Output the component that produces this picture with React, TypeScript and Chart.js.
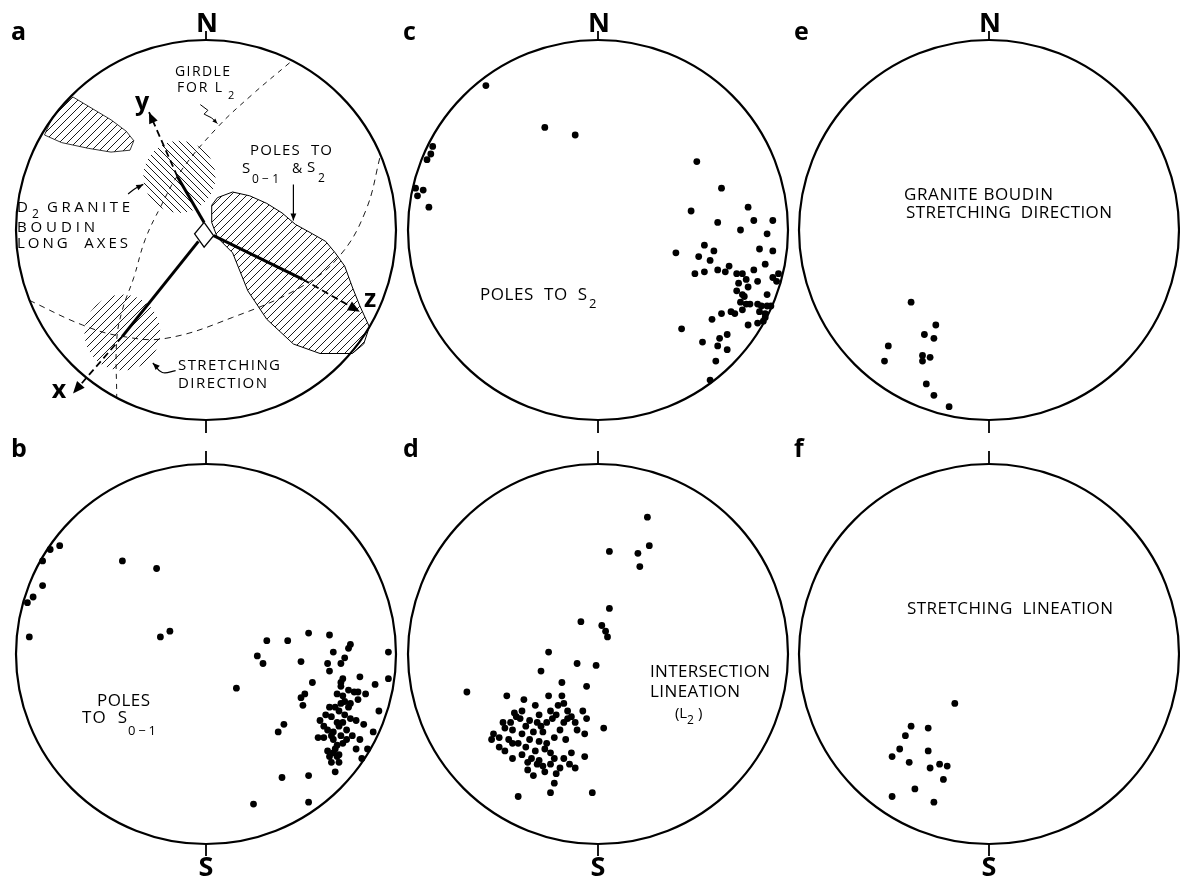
import React, { useEffect, useRef } from "react";
import { Chart, registerables } from "chart.js";

Chart.register(...registerables);

type P = [number, number];

// ---------- DATA: x = east, y = north, in % of the net radius ----------
// b: poles to S0-1
const polesS01: P[] = [
  [-77, 57], [-82, 55], [-86, 49], [-86, 36], [-91, 30], [-94, 27], [-93, 9], [-44, 49], [-26, 45], [-24, 9], [-19, 12],
  [16, -18], [32, 7], [43, 7], [54, 11], [65, 10], [76, 5], [75, 3], [27, -1], [30, -5], [50, -4], [67, 1], [73, -2],
  [96, 1], [64, -5], [65, -9], [71, -5], [56, -15], [72, -13], [81, -12], [89, -16], [96, -13], [52, -21], [50, -23],
  [51, -27], [71, -17], [75, -19], [78, -20], [80, -20], [84, -21], [80, -24], [72, -22], [71, -26], [68, -28], [75, -28],
  [70, -30], [73, -32], [76, -34], [91, -30], [63, -32], [60, -35], [72, -36], [79, -35], [83, -37], [69, -36], [62, -38],
  [64, -40], [67, -41], [74, -40], [71, -43], [41, -37], [38, -41], [59, -44], [88, -41], [67, -45], [69, -48], [81, -45],
  [79, -50], [85, -50], [64, -51], [67, -52], [70, -53], [65, -54], [69, -54], [82, -55], [68, -62], [54, -64], [40, -65],
  [25, -79], [54, -78], [71, -15], [65, -28], [76, -26], [73, -25], [70, -38], [66, -43], [72, -47], [68, -50], [66, -57],
  [74, -45], [77, -43], [62, -44], [69, -21], [66, -33], [70, -57],
];

// c: poles to S2
const polesS2: P[] = [
  [-59, 76], [-28, 54], [-12, 50], [-87, 44], [-88, 40], [-90, 37], [-96, 22], [-92, 21], [-95, 18], [-89, 12],
  [52, 36], [65, 22], [49, 10], [79, 12], [63, 4], [82, 5], [92, 5], [75, 0], [89, -2], [41, -12], [56, -8], [61, -11],
  [53, -14], [59, -16], [85, -10], [92, -11], [88, -18], [51, -23], [56, -22], [63, -21], [67, -22], [69, -19], [73, -23],
  [76, -23], [82, -21], [84, -27], [92, -25], [95, -23], [94, -27], [78, -26], [79, -30], [74, -28], [73, -32], [76, -34],
  [77, -35], [89, -34], [75, -38], [78, -39], [80, -39], [84, -39], [86, -40], [89, -40], [91, -40], [76, -42], [85, -43],
  [88, -44], [70, -43], [72, -44], [65, -44], [60, -47], [88, -46], [87, -48], [84, -49], [79, -50], [44, -52], [68, -55],
  [64, -57], [55, -59], [63, -61], [68, -63], [62, -69], [59, -79],
];

// d: intersection lineation L2
const intersectionL2: P[] = [
  [26, 72], [27, 57], [6, 54], [21, 53], [22, 46], [6, 24], [-9, 17], [2, 15], [4, 12], [5, 9], [-26, 1], [-11, -5],
  [-1, -6], [-30, -9], [-19, -15], [-6, -17], [-69, -20], [-48, -22], [-39, -24], [-26, -22], [-19, -22], [-18, -26],
  [-33, -27], [-40, -30], [-44, -31], [-31, -32], [-25, -30], [-22, -32], [-16, -30], [-14, -33], [-8, -30], [-6, -34],
  [-41, -34], [-46, -36], [-36, -35], [-32, -36], [-27, -36], [-18, -36], [-12, -36], [-11, -40], [-7, -42], [3, -39],
  [-49, -39], [-45, -40], [-40, -42], [-34, -41], [-29, -41], [-23, -44], [-55, -42], [-52, -44], [-56, -45], [-47, -45],
  [-45, -47], [-36, -45], [-31, -46], [-52, -49], [-49, -51], [-38, -49], [-33, -51], [-28, -50], [-25, -52], [-40, -53],
  [-45, -55], [-35, -55], [-31, -56], [-23, -55], [-18, -55], [-7, -54], [-32, -58], [-29, -59], [-25, -58], [-20, -60],
  [-15, -58], [-12, -60], [-37, -61], [-34, -64], [-22, -63], [-23, -68], [-42, -75], [-25, -73], [-3, -73], [-21, -27],
  [-16, -34], [-43, -33], [-38, -38], [-30, -38], [-20, -40], [-17, -45], [-27, -47], [-42, -47], [-37, -57], [-28, -62],
  [-50, -36], [-14, -52], [-24, -34],
];

// e: granite boudin stretching direction
const boudinStretch: P[] = [
  [-41, -38], [-28, -50], [-34, -55], [-29, -57], [-53, -61], [-55, -69], [-35, -66], [-31, -67], [-35, -69], [-33, -81],
  [-29, -87], [-21, -93],
];

// f: stretching lineation
const stretchLineation: P[] = [
  [-18, -26], [-41, -38], [-32, -39], [-44, -43], [-47, -50], [-32, -51], [-51, -54], [-42, -57], [-26, -58], [-22, -59],
  [-31, -60], [-24, -66], [-39, -71], [-51, -75], [-29, -78],
];

// a: synoptic diagram
const girdleL2: P[] = [[44, 88], [24, 71], [6, 54], [-14, 30], [-24, 12], [-32, -5], [-38, -25], [-44, -42], [-47, -58], [-47, -88]];
const girdleS: P[] = [[-93, -37], [-65, -50], [-44, -56], [-21, -57], [14, -46], [50, -30], [70, -14], [84, 10], [92, 40]];
const boudinAxesField: P[] = [[-70, 70], [-60, 64], [-50, 58], [-42, 52], [-38, 47], [-40, 42], [-50, 41], [-62, 43], [-76, 46], [-85, 50], [-81, 59], [-76, 65], [-70, 70]];
const polesField: P[] = [[6, 17], [14, 20], [23, 18], [32, 14], [40, 9], [47, 3], [56, -2], [63, -6], [68, -12], [73, -19], [77, -30], [81, -40], [86, -51], [83, -60], [77, -65], [60, -65], [46, -60], [32, -47], [22, -32], [14, -12], [6, -4], [3, 4], [3, 13], [6, 17]];
const maximaX: number[] = [-14, -44];
const maximaY: number[] = [28, -54];
const maximaR: number[] = [19, 20];
const yAxisSolid: P[] = [[-1, 4], [-15, 28]];
const yAxisDash: P[] = [[-15, 28], [-30, 62]];
const zAxisSolid: P[] = [[4, -3], [51, -26]];
const zAxisDash: P[] = [[51, -26], [81, -43]];
const xAxisSolid: P[] = [[-4, -6], [-44, -56]];
const xAxisDash: P[] = [[-44, -56], [-70, -86]];
const rightAngle: P[] = [[-1, 4], [4, -3], [-1, -9], [-6, -2], [-1, 4]];
const polesLeader: P[] = [[46, 24], [46, 5]];
const boudinLeader: P[] = [[-41, 19], [-37, 22], [-33, 24]];
const stretchLeader: P[] = [[-16, -74], [-23, -75], [-28, -70]];
const girdleLeader: P[] = [[-3, 66], [1, 63], [-1, 61], [3, 59], [6, 56]];

// ---------- TEXT ----------
type Lbl = { t: string; dx: number; dy: number; s: number; w?: number; b?: boolean; c?: boolean };

const LABELS_A: Lbl[] = [
  { t: "GIRDLE", dx: -31, dy: -154, s: 14, w: 55 },
  { t: "FOR L", dx: -29, dy: -138, s: 14, w: 45 },
  { t: "2", dx: 22, dy: -131, s: 11 },
  { t: "POLES  TO", dx: 44, dy: -75, s: 15, w: 82 },
  { t: "S", dx: 36, dy: -57, s: 15 },
  { t: "0−1", dx: 46, dy: -47, s: 12, w: 27 },
  { t: "&", dx: 86, dy: -57, s: 14 },
  { t: "S", dx: 101, dy: -58, s: 15 },
  { t: "2", dx: 112, dy: -48, s: 12 },
  { t: "D", dx: -189, dy: -18, s: 15 },
  { t: "2", dx: -174, dy: -12, s: 12 },
  { t: "GRANITE", dx: -159, dy: -18, s: 15, w: 83 },
  { t: "BOUDIN", dx: -189, dy: 2, s: 15, w: 78 },
  { t: "LONG  AXES", dx: -189, dy: 18, s: 15, w: 111 },
  { t: "STRETCHING", dx: -28, dy: 140, s: 15, w: 102 },
  { t: "DIRECTION", dx: -28, dy: 158, s: 15, w: 89 },
  { t: "y", dx: -64, dy: -120, s: 25, b: true, c: true },
  { t: "z", dx: 164, dy: 77, s: 25, b: true, c: true },
  { t: "x", dx: -147, dy: 168, s: 25, b: true, c: true },
];
const LABELS_B: Lbl[] = [
  { t: "POLES", dx: -109, dy: 52, s: 17, w: 53 },
  { t: "TO  S", dx: -124, dy: 69, s: 17, w: 45 },
  { t: "0−1", dx: -78, dy: 81, s: 13, w: 28 },
];
const LABELS_C: Lbl[] = [
  { t: "POLES  TO  S", dx: -118, dy: 70, s: 17, w: 107 },
  { t: "2", dx: -9, dy: 78, s: 13 },
];
const LABELS_D: Lbl[] = [
  { t: "INTERSECTION", dx: 52, dy: 23, s: 17, w: 120 },
  { t: "LINEATION", dx: 52, dy: 43, s: 17, w: 90 },
  { t: "(L", dx: 77, dy: 64, s: 15, w: 12 },
  { t: "2", dx: 89, dy: 70, s: 12 },
  { t: ")", dx: 100, dy: 64, s: 15 },
];
const LABELS_E: Lbl[] = [
  { t: "GRANITE BOUDIN", dx: -85, dy: -30, s: 17, w: 149 },
  { t: "STRETCHING  DIRECTION", dx: -83, dy: -12, s: 17, w: 206 },
];
const LABELS_F: Lbl[] = [
  { t: "STRETCHING  LINEATION", dx: -82, dy: -40, s: 17, w: 206 },
];

type Panel = {
  id: string; cx: number; cy: number; top: boolean; labels: Lbl[]; points?: P[];
};

const PANELS: Panel[] = [
  { id: "a", cx: 206, cy: 230, top: true, labels: LABELS_A },
  { id: "c", cx: 598, cy: 230, top: true, labels: LABELS_C, points: polesS2 },
  { id: "e", cx: 989, cy: 230, top: true, labels: LABELS_E, points: boudinStretch },
  { id: "b", cx: 206, cy: 654, top: false, labels: LABELS_B, points: polesS01 },
  { id: "d", cx: 598, cy: 654, top: false, labels: LABELS_D, points: intersectionL2 },
  { id: "f", cx: 989, cy: 654, top: false, labels: LABELS_F, points: stretchLineation },
];

const FONT = '"Open Sans", "DejaVu Sans", sans-serif';
const CW = 392;
const CH = 460;
const R = 190;

const pts = (a: P[]) => a.map(([x, y]) => ({ x, y }));

function hatch(dir: number, gap: number): CanvasPattern | string {
  const c = document.createElement("canvas");
  c.width = gap;
  c.height = gap;
  const g = c.getContext("2d");
  if (!g) return "rgba(0,0,0,0.2)";
  g.strokeStyle = "#000";
  g.lineWidth = 0.9;
  g.beginPath();
  if (dir > 0) {
    g.moveTo(-1, gap + 1); g.lineTo(gap + 1, -1);
    g.moveTo(-1, 1); g.lineTo(1, -1);
    g.moveTo(gap - 1, gap + 1); g.lineTo(gap + 1, gap - 1);
  } else {
    g.moveTo(-1, -1); g.lineTo(gap + 1, gap + 1);
    g.moveTo(gap - 1, -1); g.lineTo(gap + 1, 1);
    g.moveTo(-1, gap - 1); g.lineTo(1, gap + 1);
  }
  g.stroke();
  return g.createPattern(c, "repeat") || "rgba(0,0,0,0.2)";
}

function line(a: P[], extra: any = {}) {
  return {
    data: pts(a), showLine: true, pointRadius: 0, pointHoverRadius: 0,
    borderColor: "#000", backgroundColor: "#000", borderWidth: 1, fill: false, tension: 0, clip: false,
    ...extra,
  };
}

function dots(a: P[]) {
  return {
    data: pts(a), showLine: false, pointRadius: 3.4, pointHoverRadius: 3.4,
    backgroundColor: "#000", borderColor: "#000", borderWidth: 0, clip: false,
  };
}

function diagramDatasets() {
  const fwd = hatch(1, 8);
  const back = hatch(-1, 7);
  return [
    line(boudinAxesField, { fill: "shape", backgroundColor: fwd, borderWidth: 0.8 }),
    line(polesField, { fill: "shape", backgroundColor: fwd, borderWidth: 1 }),
    {
      data: maximaX.map((x, i) => ({ x, y: maximaY[i], r: maximaR[i] })),
      showLine: false, clip: false, borderWidth: 0,
      pointBackgroundColor: [back, fwd], backgroundColor: [back, fwd],
      pointRadius: (c: any) => {
        const w = c.chart.chartArea ? c.chart.chartArea.width : 2 * R;
        return c.raw ? (c.raw.r * w) / 200 : 0;
      },
      pointHoverRadius: 0,
    },
    line(girdleL2, { borderDash: [5, 5], borderWidth: 0.9, tension: 0.4 }),
    line(girdleS, { borderDash: [6, 5], borderWidth: 0.9, tension: 0.4 }),
    line(yAxisSolid, { borderWidth: 3 }),
    line(yAxisDash, { borderWidth: 1.8, borderDash: [7, 4], arrow: 11 }),
    line(zAxisSolid, { borderWidth: 3 }),
    line(zAxisDash, { borderWidth: 1.8, borderDash: [7, 4], arrow: 12 }),
    line(xAxisSolid, { borderWidth: 3 }),
    line(xAxisDash, { borderWidth: 1.8, borderDash: [7, 4], arrow: 12 }),
    line(rightAngle, { borderWidth: 1.3, fill: "shape", backgroundColor: "#fff" }),
    line(polesLeader, { borderWidth: 1.2, arrow: 7 }),
    line(boudinLeader, { borderWidth: 1.2, arrow: 7, tension: 0.4 }),
    line(stretchLeader, { borderWidth: 1.2, arrow: 7, tension: 0.4 }),
    line(girdleLeader, { borderWidth: 1, arrow: 5 }),
  ];
}

function drawLabel(ctx: CanvasRenderingContext2D, l: Lbl, cx: number, cy: number) {
  ctx.font = `${l.b ? "700" : "400"} ${l.s}px ${FONT}`;
  ctx.fillStyle = "#000";
  ctx.textBaseline = "alphabetic";
  const x = cx + l.dx;
  const y = cy + l.dy;
  if (l.c) {
    ctx.textAlign = "center";
    ctx.fillText(l.t, x, y);
    return;
  }
  ctx.textAlign = "left";
  const chars = Array.from(l.t);
  const widths = chars.map((ch) => ctx.measureText(ch).width);
  const natural = widths.reduce((s, w) => s + w, 0);
  let sp = 0;
  if (l.w && chars.length > 1) sp = (l.w - natural) / (chars.length - 1);
  let px = x;
  chars.forEach((ch, i) => {
    ctx.fillText(ch, px, y);
    px += widths[i] + sp;
  });
}

function makePlugin(p: Panel) {
  return {
    id: "stereo-" + p.id,
    beforeDatasetsDraw(chart: any) {
      const ctx: CanvasRenderingContext2D = chart.ctx;
      const xs = chart.scales.x;
      const ys = chart.scales.y;
      const cx = xs.getPixelForValue(0);
      const cy = ys.getPixelForValue(0);
      const r = xs.getPixelForValue(100) - cx;
      ctx.save();
      ctx.strokeStyle = "#000";
      ctx.lineWidth = 2.2;
      ctx.beginPath();
      ctx.arc(cx, cy, r, 0, Math.PI * 2);
      ctx.stroke();
      ctx.lineWidth = 1.8;
      ctx.beginPath();
      ctx.moveTo(cx, cy - r);
      ctx.lineTo(cx, cy - r - (p.top ? 9 : 13));
      ctx.moveTo(cx, cy + r);
      ctx.lineTo(cx, cy + r + (p.top ? 13 : 12));
      ctx.stroke();
      ctx.restore();
    },
    afterDatasetsDraw(chart: any) {
      const ctx: CanvasRenderingContext2D = chart.ctx;
      const xs = chart.scales.x;
      const ys = chart.scales.y;
      const cx = xs.getPixelForValue(0);
      const cy = ys.getPixelForValue(0);
      ctx.save();
      chart.data.datasets.forEach((ds: any, i: number) => {
        if (!ds.arrow) return;
        const el = chart.getDatasetMeta(i).data;
        if (el.length < 2) return;
        const a = el[el.length - 2];
        const b = el[el.length - 1];
        const ang = Math.atan2(b.y - a.y, b.x - a.x);
        const s = ds.arrow;
        ctx.fillStyle = "#000";
        ctx.beginPath();
        ctx.moveTo(b.x, b.y);
        ctx.lineTo(b.x - s * Math.cos(ang) + s * 0.42 * Math.sin(ang), b.y - s * Math.sin(ang) - s * 0.42 * Math.cos(ang));
        ctx.lineTo(b.x - s * Math.cos(ang) - s * 0.42 * Math.sin(ang), b.y - s * Math.sin(ang) + s * 0.42 * Math.cos(ang));
        ctx.closePath();
        ctx.fill();
      });
      p.labels.forEach((l) => drawLabel(ctx, l, cx, cy));
      drawLabel(ctx, { t: p.id, dx: -195, dy: p.top ? -190 : -197, s: 25, b: true }, cx, cy);
      drawLabel(ctx, p.top ? { t: "N", dx: 1, dy: -198, s: 27, b: true, c: true } : { t: "S", dx: 0, dy: 222, s: 27, b: true, c: true }, cx, cy);
      ctx.restore();
    },
  };
}

function StereoPanel({ p }: { p: Panel }) {
  const ref = useRef<HTMLCanvasElement | null>(null);
  useEffect(() => {
    if (!ref.current) return;
    const datasets: any[] = p.points ? [dots(p.points)] : diagramDatasets();
    const padX = (CW - 2 * R) / 2;
    const padY = (CH - 2 * R) / 2;
    const chart = new Chart(ref.current, {
      type: "scatter",
      data: { datasets },
      options: {
        animation: false,
        responsive: false,
        devicePixelRatio: 1,
        events: [],
        layout: { autoPadding: false, padding: { left: padX, right: padX, top: padY, bottom: padY } },
        plugins: { legend: { display: false }, tooltip: { enabled: false }, title: { display: false } },
        scales: {
          x: { type: "linear", min: -100, max: 100, display: false },
          y: { type: "linear", min: -100, max: 100, display: false },
        },
      } as any,
      plugins: [makePlugin(p)],
    });
    return () => chart.destroy();
  }, [p]);
  return (
    <canvas
      ref={ref}
      width={CW}
      height={CH}
      style={{ position: "absolute", left: p.cx - CW / 2, top: p.cy - CH / 2, width: CW, height: CH }}
    />
  );
}

export default function App() {
  return (
    <div style={{ position: "absolute", left: 0, top: 0, width: 1180, height: 890, overflow: "hidden", background: "#fff" }}>
      {PANELS.map((p) => (
        <StereoPanel key={p.id} p={p} />
      ))}
    </div>
  );
}
